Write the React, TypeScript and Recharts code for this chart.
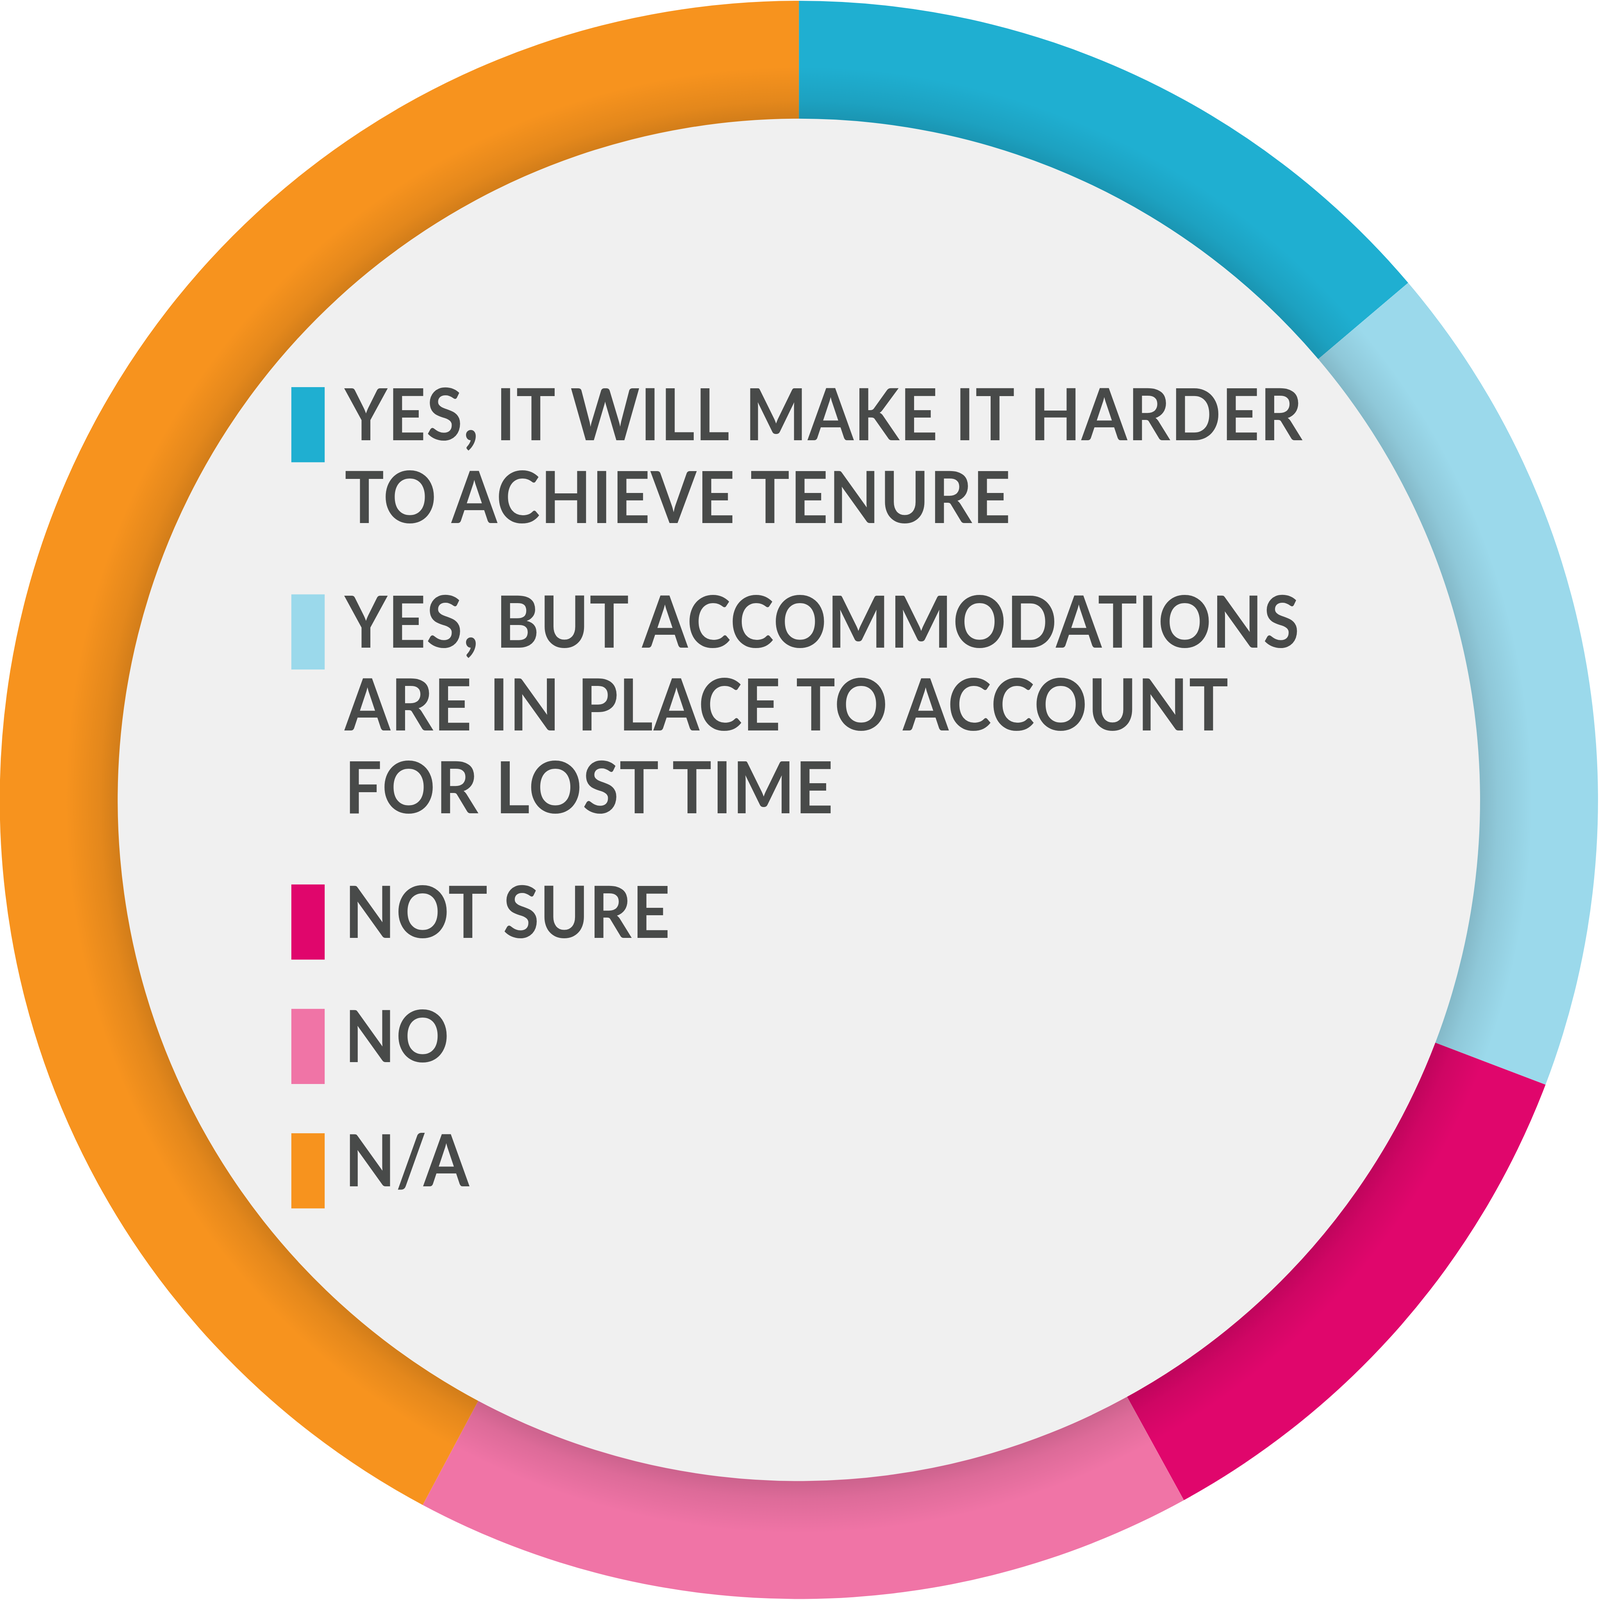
import React from 'react';
import { PieChart, Pie, Cell, Legend } from 'recharts';

// survey answers, clockwise from 12 o'clock
const answers = [
  'YES, IT WILL MAKE IT HARDER TO ACHIEVE TENURE',
  'YES, BUT ACCOMMODATIONS ARE IN PLACE TO ACCOUNT FOR LOST TIME',
  'NOT SURE',
  'NO',
  'N/A',
];
const shares = [13.8, 17, 11.2, 15.8, 42.2];
const legendLines = [
  ['YES, IT WILL MAKE IT HARDER', 'TO ACHIEVE TENURE'],
  ['YES, BUT ACCOMMODATIONS', 'ARE IN PLACE TO ACCOUNT', 'FOR LOST TIME'],
  ['NOT SURE'],
  ['NO'],
  ['N/A'],
];
const palette = ['#1fafd1', '#9bd9eb', '#e0066c', '#f074a6', '#f7931e'];

// the browser viewport is 4096px, so the 6431px design is scaled down to fit it
const S = 4096 / 6431;
const px = (v: number) => v * S;

const W = 4096;
const H = Math.round(px(6434));
const CX = px(3211);
const CY = px(3215);
const OUTER = px(3212);
const INNER = px(2738);

const data = answers.map((name, i) => ({ name, value: shares[i] }));

const renderLegend = () => {
  const x0 = px(1171);
  const textX = px(1385);
  const lineGap = px(333);
  const groupGap = px(500);
  let baseline = px(1770);
  const items: React.ReactNode[] = [];
  legendLines.forEach((lines, i) => {
    if (i > 0) baseline += groupGap;
    items.push(
      <rect key={`sw-${i}`} x={x0} y={baseline - px(214)} width={px(134)} height={px(302)} fill={palette[i]} />
    );
    lines.forEach((line, j) => {
      if (j > 0) baseline += lineGap;
      items.push(
        <g key={`t-${i}-${j}`} transform={`translate(${textX} ${baseline}) scale(0.915 1)`}>
          <text
            x={0}
            y={0}
            fill="#484a49"
            fontFamily="Lato, 'Noto Sans', sans-serif"
            fontWeight={700}
            fontSize={px(289)}
            letterSpacing={px(3)}
          >
            {line}
          </text>
        </g>
      );
    });
  });
  return (
    <svg width={W} height={H} style={{ position: 'absolute', left: 0, top: 0 }}>
      {items}
    </svg>
  );
};

const App: React.FC = () => {
  return (
    <div style={{ position: 'absolute', left: 0, top: 0, width: W, height: H, background: '#ffffff' }}>
      <PieChart width={W} height={H} margin={{ top: 0, right: 0, bottom: 0, left: 0 }}>
        <defs>
          <radialGradient id="ringShade" gradientUnits="userSpaceOnUse" cx={CX} cy={CY} r={OUTER}>
            <stop offset={INNER / OUTER} stopColor="#000" stopOpacity={0.15} />
            <stop offset={(INNER + px(70)) / OUTER} stopColor="#000" stopOpacity={0.08} />
            <stop offset={(INNER + px(210)) / OUTER} stopColor="#000" stopOpacity={0} />
          </radialGradient>
        </defs>
        <Pie
          data={[{ name: 'bg', value: 1 }]}
          dataKey="value"
          cx={CX}
          cy={CY}
          innerRadius={0}
          outerRadius={INNER}
          fill="#f0f0f0"
          stroke="none"
          isAnimationActive={false}
          legendType="none"
        />
        <Pie
          data={data}
          dataKey="value"
          nameKey="name"
          cx={CX}
          cy={CY}
          innerRadius={INNER}
          outerRadius={OUTER}
          startAngle={90}
          endAngle={-270}
          stroke="none"
          isAnimationActive={false}
        >
          {data.map((entry, index) => (
            <Cell key={`cell-${index}`} fill={palette[index]} />
          ))}
        </Pie>
        <Pie
          data={[{ name: 'shade', value: 1 }]}
          dataKey="value"
          cx={CX}
          cy={CY}
          innerRadius={INNER}
          outerRadius={INNER + px(220)}
          fill="url(#ringShade)"
          stroke="none"
          isAnimationActive={false}
          legendType="none"
        />
        <Legend
          content={renderLegend}
          wrapperStyle={{ left: 0, top: 0, width: W, height: H, margin: 0 }}
        />
      </PieChart>
    </div>
  );
};

export default App;
